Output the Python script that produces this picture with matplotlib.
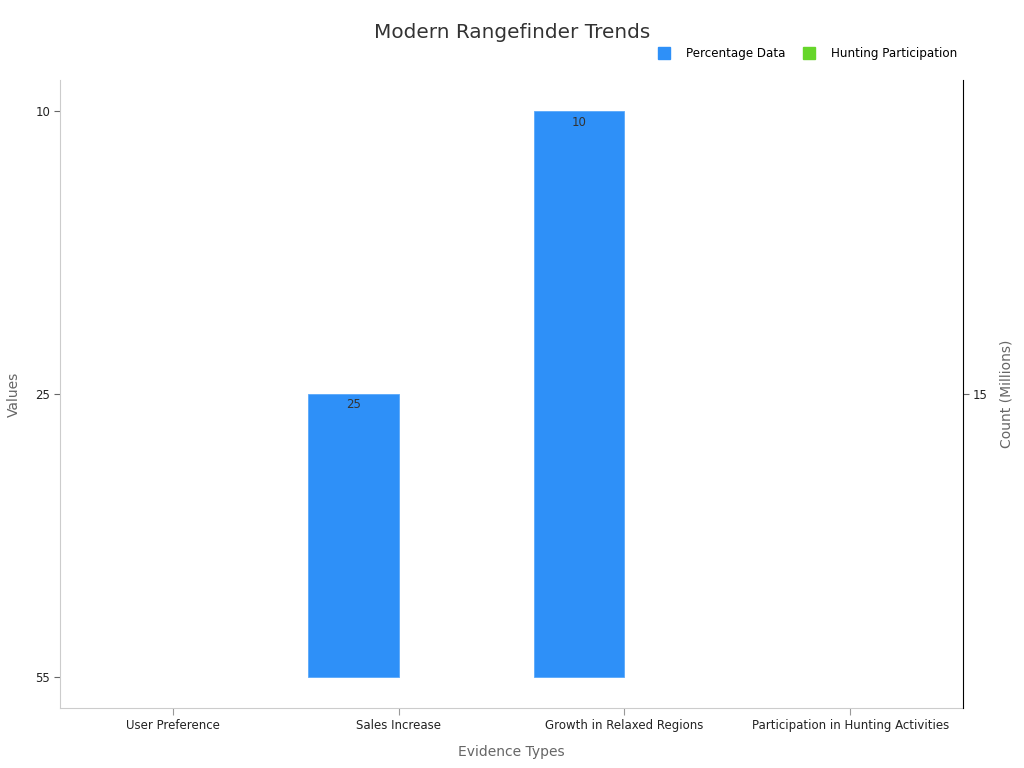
import matplotlib
matplotlib.use("Agg")
import matplotlib.pyplot as plt
from matplotlib.lines import Line2D

categories = ["User Preference", "Sales Increase", "Growth in Relaxed Regions",
              "Participation in Hunting Activities"]
percentage_values = [55, 25, 10, None]
hunting_values = [None, None, None, 15]
left_ticks = [55, 25, 10]
right_ticks = [15]

blue = "#2E90F8"
green = "#66D62A"

fig = plt.figure(figsize=(10.24, 7.68), dpi=100)
ax = fig.add_axes([60/1024, 60/768, 903/1024, 628/768])
ax2 = ax.twinx()

x = list(range(len(categories)))
w = 0.4

# left axis is a category axis: value -> index
idx_blue = [i for i, v in enumerate(percentage_values) if v is not None]
bx = [i - w/2 for i in idx_blue]
bh = [left_ticks.index(percentage_values[i]) for i in idx_blue]
bars = ax.bar(bx, bh, width=w, color=blue, linewidth=0, zorder=3)
for rect, i in zip(bars, idx_blue):
    if rect.get_height() > 0:
        rect.set_edgecolor("#5aa8fa")
        rect.set_linewidth(0.6)
        ax.annotate(str(percentage_values[i]),
                    (rect.get_x() + rect.get_width()/2, rect.get_height()),
                    xytext=(0, -3), textcoords="offset points",
                    ha="center", va="top", fontsize=8.5, color="#333333")

idx_green = [i for i, v in enumerate(hunting_values) if v is not None]
gx = [i + w/2 for i in idx_green]
gh = [right_ticks.index(hunting_values[i]) for i in idx_green]
ax2.bar(gx, gh, width=w, color=green, linewidth=0, zorder=3)

ax.set_xlim(-0.5, len(categories) - 0.5)
ax.set_ylim(-0.111, 2.111)
ax.set_yticks(range(len(left_ticks)))
ax.set_yticklabels([str(t) for t in left_ticks])
ax2.set_ylim(-0.5, 0.5)
ax2.set_yticks(range(len(right_ticks)))
ax2.set_yticklabels([str(t) for t in right_ticks])

ax.set_xticks(x)
ax.set_xticklabels(categories)

for a in (ax, ax2):
    a.spines["top"].set_visible(False)
ax.spines["left"].set_color("#cccccc")
ax.spines["bottom"].set_color("#cccccc")
ax.spines["right"].set_visible(False)
ax2.spines["left"].set_visible(False)
ax2.spines["bottom"].set_visible(False)
ax2.spines["right"].set_color("#000000")
ax2.spines["right"].set_linewidth(0.8)

ax.tick_params(axis="x", length=5, color="#999999", labelsize=8.5, labelcolor="#222222", pad=3)
ax.tick_params(axis="y", length=4, color="#666666", labelsize=8.5, labelcolor="#222222", pad=3)
ax2.tick_params(axis="y", length=4, color="#666666", labelsize=8.5, labelcolor="#222222", pad=3)

ax.set_xlabel("Evidence Types", fontsize=10, color="#666666", labelpad=9)
ax.set_ylabel("Values", fontsize=10, color="#666666")
ax.yaxis.set_label_coords((21 - 60) / 903, 0.5)
ax2.set_ylabel("Count (Millions)", fontsize=10, color="#666666")
ax2.yaxis.set_label_coords((1000 - 60) / 903, 0.5)

fig.text(0.5, 1 - 33/768, "Modern Rangefinder Trends", ha="center", va="center",
         fontsize=14.4, color="#333333")

handles = [Line2D([], [], marker="s", linestyle="none", markersize=8.5, color=blue),
           Line2D([], [], marker="s", linestyle="none", markersize=8.5, color=green)]
fig.legend(handles, ["Percentage Data", "Hunting Participation"], ncol=2,
           loc="center right", bbox_to_anchor=(963/1024, 1 - 54/768), frameon=False,
           fontsize=8.6, handletextpad=1.3, columnspacing=1.5, borderpad=0, handlelength=1)

fig.savefig("out.png", dpi=100)
